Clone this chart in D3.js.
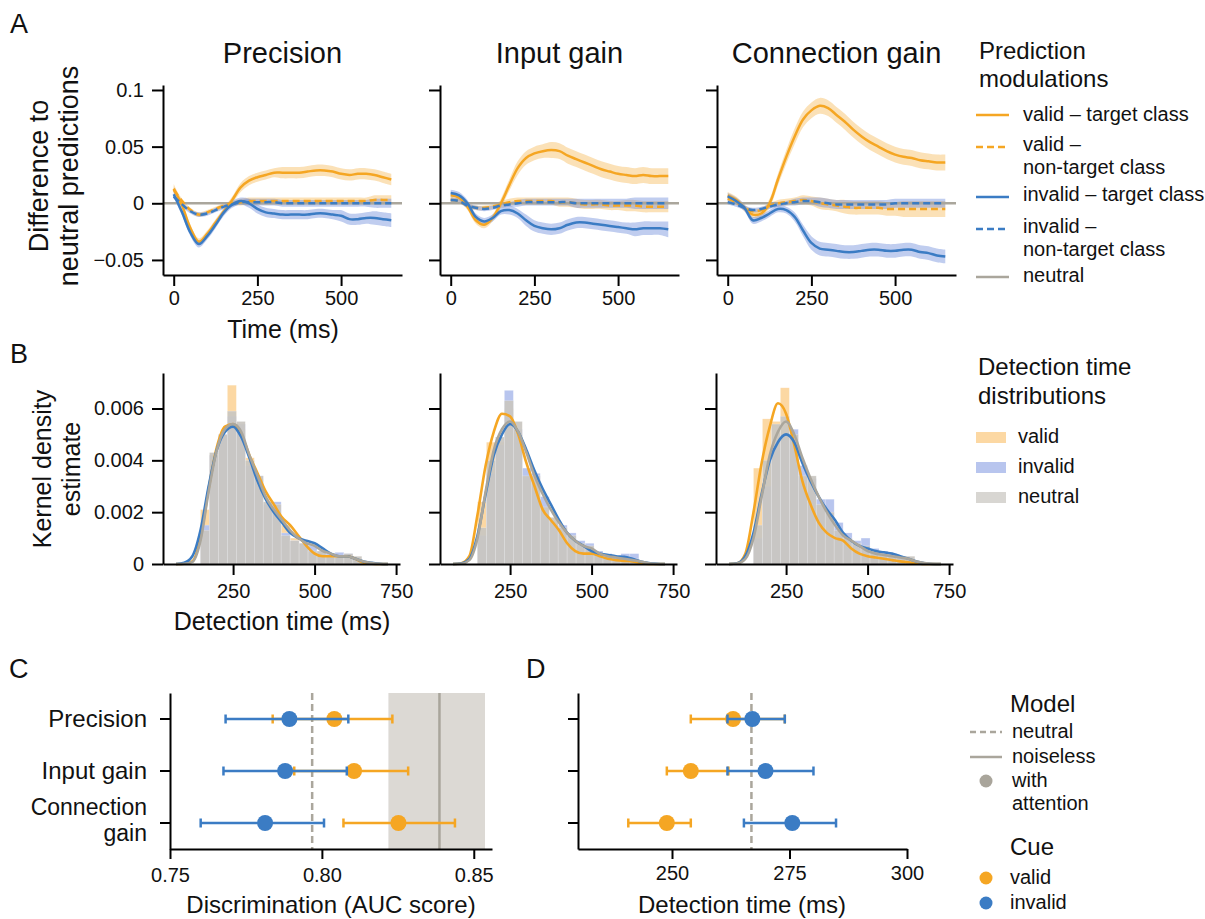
<!DOCTYPE html>
<html>
<head>
<meta charset="utf-8">
<script src="https://cdn.jsdelivr.net/npm/d3@7"></script>
<style>
  body { margin: 0; background: #fff; }
  svg { font-family: "Liberation Sans", Arial, Helvetica, sans-serif; }
</style>
</head>
<body>
<svg id="fig" width="1205" height="919"></svg>
<script>
// ---------- data ----------
const modelNames = ["Precision", "Input gain", "Connection gain"]

// A: prediction modulations (difference to neutral), sampled every 25 ms
const timeMs = [0,25,50,75,100,125,150,175,200,225,250,275,300,325,350,375,400,425,450,475,500,525,550,575,600,625,650]

const precValidTarget   = [0.013,-0.002,-0.022,-0.034,-0.027,-0.017,-0.007,0.003,0.014,0.020,0.023,0.025,0.027,0.027,0.027,0.027,0.028,0.029,0.029,0.028,0.026,0.025,0.026,0.026,0.025,0.023,0.021]
const precValidOther    = [0.012,0.002,-0.006,-0.010,-0.008,-0.005,-0.002,0.000,0.001,0.002,0.002,0.002,0.002,0.002,0.002,0.002,0.002,0.002,0.002,0.002,0.002,0.002,0.002,0.002,0.003,0.003,0.003]
const precInvalidTarget = [0.008,-0.008,-0.026,-0.036,-0.029,-0.019,-0.008,-0.001,0.002,0.000,-0.005,-0.008,-0.009,-0.010,-0.010,-0.010,-0.010,-0.009,-0.009,-0.010,-0.011,-0.014,-0.014,-0.013,-0.013,-0.014,-0.015]
const precInvalidOther  = [0.006,-0.001,-0.007,-0.010,-0.009,-0.006,-0.003,-0.001,0.001,0.001,0.001,0.001,0.001,0.000,0.000,0.000,0.000,0.000,0.000,0.000,0.000,0.000,0.000,0.000,0.000,0.000,0.000]
const precValidTargetCi   = [0.004,0.003,0.003,0.003,0.003,0.003,0.003,0.003,0.004,0.004,0.004,0.004,0.004,0.005,0.005,0.005,0.005,0.005,0.005,0.005,0.005,0.005,0.005,0.005,0.005,0.005,0.005]
const precValidOtherCi    = [0.003,0.002,0.002,0.002,0.002,0.002,0.002,0.002,0.003,0.003,0.003,0.003,0.003,0.003,0.003,0.003,0.003,0.003,0.003,0.003,0.003,0.003,0.003,0.003,0.004,0.004,0.004]
const precInvalidTargetCi = [0.003,0.003,0.003,0.003,0.003,0.003,0.003,0.003,0.003,0.004,0.004,0.004,0.004,0.004,0.004,0.004,0.004,0.004,0.004,0.004,0.005,0.005,0.005,0.005,0.006,0.006,0.006]
const precInvalidOtherCi  = [0.002,0.002,0.002,0.002,0.002,0.002,0.002,0.002,0.002,0.003,0.003,0.003,0.003,0.003,0.003,0.003,0.003,0.003,0.003,0.003,0.003,0.003,0.003,0.003,0.004,0.004,0.004]

const inputValidTarget   = [0.007,0.005,-0.003,-0.015,-0.019,-0.013,0.000,0.016,0.031,0.040,0.044,0.046,0.047,0.046,0.042,0.039,0.036,0.033,0.030,0.028,0.026,0.025,0.024,0.025,0.024,0.024,0.024]
const inputValidOther    = [0.003,0.002,-0.002,-0.004,-0.004,-0.003,-0.001,0.001,0.002,0.002,0.002,0.002,0.002,0.001,0.001,0.000,-0.001,-0.001,-0.001,-0.002,-0.002,-0.002,-0.002,-0.003,-0.003,-0.003,-0.003]
const inputInvalidTarget = [0.009,0.007,0.000,-0.012,-0.016,-0.013,-0.007,-0.006,-0.009,-0.015,-0.020,-0.022,-0.023,-0.022,-0.019,-0.017,-0.017,-0.018,-0.019,-0.020,-0.021,-0.022,-0.023,-0.022,-0.022,-0.022,-0.023]
const inputInvalidOther  = [0.003,0.002,-0.002,-0.004,-0.005,-0.004,-0.002,-0.001,0.000,0.001,0.001,0.001,0.001,0.001,0.001,0.000,0.000,0.000,0.000,0.000,0.000,0.000,0.000,0.000,0.000,0.000,0.000]
const inputValidTargetCi   = [0.003,0.003,0.003,0.003,0.003,0.003,0.004,0.005,0.006,0.006,0.006,0.006,0.007,0.007,0.007,0.007,0.007,0.007,0.007,0.007,0.007,0.007,0.007,0.007,0.007,0.007,0.007]
const inputValidOtherCi    = [0.002,0.002,0.002,0.002,0.002,0.002,0.003,0.003,0.003,0.003,0.003,0.003,0.003,0.004,0.004,0.004,0.004,0.004,0.004,0.004,0.004,0.005,0.005,0.005,0.005,0.005,0.005]
const inputInvalidTargetCi = [0.003,0.003,0.003,0.003,0.003,0.003,0.003,0.004,0.004,0.005,0.005,0.005,0.005,0.005,0.005,0.005,0.005,0.005,0.005,0.005,0.005,0.005,0.006,0.006,0.006,0.006,0.007]
const inputInvalidOtherCi  = [0.002,0.002,0.002,0.002,0.002,0.002,0.002,0.002,0.003,0.003,0.003,0.003,0.003,0.003,0.003,0.004,0.004,0.004,0.004,0.004,0.004,0.004,0.005,0.005,0.005,0.005,0.005]

const connValidTarget   = [0.007,0.003,-0.004,-0.010,-0.009,0.000,0.021,0.041,0.059,0.074,0.082,0.086,0.084,0.078,0.072,0.065,0.059,0.054,0.050,0.046,0.043,0.041,0.040,0.038,0.037,0.036,0.036]
const connValidOther    = [0.004,0.001,-0.004,-0.007,-0.006,-0.002,0.000,0.001,0.002,0.003,0.002,0.000,-0.001,-0.002,-0.003,-0.004,-0.004,-0.004,-0.004,-0.005,-0.005,-0.005,-0.005,-0.005,-0.005,-0.005,-0.005]
const connInvalidTarget = [0.006,0.002,-0.004,-0.015,-0.013,-0.009,-0.005,-0.006,-0.012,-0.024,-0.035,-0.040,-0.041,-0.042,-0.043,-0.043,-0.042,-0.041,-0.041,-0.042,-0.042,-0.041,-0.041,-0.043,-0.044,-0.046,-0.047]
const connInvalidOther  = [0.001,-0.001,-0.004,-0.006,-0.005,-0.003,-0.001,0.000,0.001,0.002,0.002,0.001,0.000,-0.001,-0.001,-0.001,-0.001,-0.001,-0.001,-0.001,0.000,0.000,0.000,0.000,0.000,0.000,0.000]
const connValidTargetCi   = [0.003,0.003,0.003,0.003,0.003,0.004,0.005,0.006,0.007,0.007,0.007,0.007,0.007,0.007,0.007,0.007,0.007,0.007,0.007,0.007,0.007,0.007,0.007,0.007,0.007,0.007,0.007]
const connValidOtherCi    = [0.002,0.002,0.002,0.002,0.002,0.002,0.003,0.003,0.003,0.004,0.004,0.005,0.005,0.005,0.006,0.006,0.006,0.006,0.006,0.006,0.006,0.007,0.007,0.007,0.007,0.007,0.007]
const connInvalidTargetCi = [0.003,0.003,0.003,0.003,0.003,0.003,0.003,0.003,0.004,0.005,0.006,0.006,0.006,0.006,0.006,0.006,0.006,0.006,0.006,0.006,0.006,0.006,0.006,0.006,0.006,0.006,0.006]
const connInvalidOtherCi  = [0.002,0.002,0.002,0.002,0.002,0.002,0.002,0.002,0.003,0.003,0.003,0.004,0.004,0.004,0.004,0.004,0.004,0.004,0.004,0.004,0.004,0.004,0.004,0.004,0.004,0.004,0.004]

const predYTicks = [-0.05, 0, 0.05, 0.1]
const predYTickLabels = ["\u22120.05", "0", "0.05", "0.1"]
const predXTicks = [0, 250, 500]

// B: detection time histograms (18 bins of 27.5 ms starting at 150 ms) and KDE curves
const binStart = 150
const binWidth = 27.5
const histPrecValid    = [0.0021,0.0042,0.0048,0.0069,0.0052,0.0041,0.0033,0.0022,0.0019,0.0015,0.0010,0.0008,0.0005,0.0004,0.0003,0.0002,0.0003,0.0001]
const histPrecInvalid  = [0.0015,0.0042,0.0050,0.0057,0.0054,0.0038,0.0034,0.0023,0.0024,0.0012,0.0009,0.0008,0.0007,0.0005,0.0004,0.00045,0.0004,0.0002]
const histPrecNeutral  = [0.0013,0.0043,0.0050,0.0059,0.0055,0.0040,0.0034,0.0024,0.0023,0.0011,0.0009,0.0008,0.0005,0.0005,0.00035,0.0003,0.0004,0.0003]
const histInputValid   = [0.0024,0.0047,0.0047,0.0060,0.0050,0.0035,0.0030,0.0018,0.0017,0.0011,0.0008,0.0006,0.0005,0.0004,0.0002,0.0002,0.0002,0.0001]
const histInputInvalid = [0.0011,0.0035,0.0046,0.0067,0.0052,0.0037,0.0035,0.0026,0.0016,0.0015,0.0012,0.0009,0.0008,0.0005,0.0004,0.0003,0.0004,0.0004]
const histInputNeutral = [0.0014,0.0040,0.0049,0.0063,0.0055,0.0034,0.0034,0.0022,0.0018,0.0014,0.0011,0.0008,0.0007,0.0004,0.0003,0.0003,0.0003,0.0002]
const histConnValid    = [0.0037,0.0056,0.0055,0.0068,0.0045,0.0030,0.0022,0.0014,0.0011,0.0010,0.0009,0.0006,0.0003,0.0003,0.0002,0.0002,0.0001,0.0001]
const histConnInvalid  = [0.0010,0.0030,0.0045,0.0050,0.0052,0.0038,0.0033,0.0025,0.0025,0.0016,0.0012,0.0009,0.0010,0.0006,0.0005,0.0004,0.0003,0.0002]
const histConnNeutral  = [0.0015,0.0040,0.0054,0.0057,0.0050,0.0034,0.0034,0.0023,0.0020,0.0013,0.0010,0.0008,0.0007,0.0005,0.0004,0.0003,0.0003,0.0003]

const kdeT = [75,100,125,150,175,200,225,250,275,300,325,350,375,400,425,450,475,500,525,550,575,600,625,650,675,700,725]
const kdePrecValid    = [0,0.00001,0.0001,0.0010,0.0029,0.0045,0.0053,0.0054,0.0050,0.0042,0.0035,0.0028,0.0023,0.0018,0.0015,0.0011,0.0007,0.0004,0.0003,0.0003,0.0003,0.0003,0.0002,0.00005,0.00001,0,0]
const kdePrecInvalid  = [0,0.00005,0.0003,0.0013,0.0030,0.0044,0.0051,0.0053,0.0049,0.0041,0.0032,0.0025,0.0020,0.0016,0.0012,0.0010,0.0009,0.0008,0.0006,0.0004,0.0003,0.0003,0.0002,0.0001,0.00005,0.00001,0]
const kdePrecNeutral  = [0,0.00001,0.00008,0.0009,0.0028,0.0044,0.0052,0.0054,0.0051,0.0042,0.0034,0.0026,0.0021,0.0017,0.0013,0.0010,0.0008,0.0007,0.0005,0.0004,0.0003,0.0003,0.0002,0.0001,0.00004,0.00001,0]
const kdeInputValid   = [0,0.00003,0.0003,0.0019,0.0038,0.0051,0.0058,0.0057,0.0050,0.0039,0.0030,0.0021,0.0017,0.0013,0.0008,0.0005,0.0004,0.0004,0.0003,0.0002,0.00015,0.00012,0.0001,0.00003,0,0,0]
const kdeInputInvalid = [0,0.00002,0.0002,0.0011,0.0027,0.0042,0.0050,0.0054,0.0051,0.0044,0.0036,0.0029,0.0023,0.0017,0.0012,0.0009,0.0007,0.0005,0.0004,0.00035,0.0003,0.00028,0.0002,0.0001,0.00004,0.00001,0]
const kdeInputNeutral = [0,0.00001,0.00015,0.0010,0.0028,0.0044,0.0052,0.0055,0.0051,0.0043,0.0034,0.0027,0.0021,0.0016,0.0012,0.0009,0.0007,0.0006,0.0004,0.0003,0.00025,0.0002,0.00015,0.0001,0.00003,0,0]
const kdeConnValid    = [0,0.00003,0.0004,0.0020,0.0039,0.0053,0.0062,0.0058,0.0046,0.0032,0.0023,0.0016,0.0012,0.0010,0.0009,0.0006,0.0004,0.0003,0.00025,0.0002,0.00015,0.0001,0.00007,0.00003,0,0,0]
const kdeConnInvalid  = [0,0.00003,0.0003,0.0012,0.0027,0.0040,0.0047,0.0050,0.0047,0.0039,0.0032,0.0026,0.0021,0.0017,0.0012,0.0009,0.0007,0.0006,0.0005,0.00045,0.0004,0.0003,0.0002,0.0001,0.00003,0,0]
const kdeConnNeutral  = [0,0.00002,0.0002,0.0010,0.0026,0.0042,0.0051,0.0055,0.0050,0.0041,0.0033,0.0026,0.0020,0.0015,0.0011,0.0009,0.0007,0.0005,0.0004,0.00035,0.0003,0.00025,0.0002,0.0001,0.00004,0.00001,0]

const kdeYTicks = [0, 0.002, 0.004, 0.006]
const kdeYTickLabels = ["0", "0.002", "0.004", "0.006"]
const kdeXTicks = [250, 500, 750]

// C: discrimination (AUC) with error bars, rows follow modelNames
const aucValid     = [0.8041, 0.8106, 0.8252]
const aucValidLo   = [0.7838, 0.7909, 0.8071]
const aucValidHi   = [0.8232, 0.8284, 0.8438]
const aucInvalid   = [0.7893, 0.7879, 0.7813]
const aucInvalidLo = [0.7683, 0.7676, 0.7601]
const aucInvalidHi = [0.8087, 0.8082, 0.8007]
const aucNeutral = 0.7968
const aucNoiseless = 0.8387
const aucNoiselessLo = 0.8219
const aucNoiselessHi = 0.8537
const aucTicks = [0.75, 0.80, 0.85]

// D: detection time with error bars
const rtValid     = [263.0, 254.0, 248.9]
const rtValidLo   = [254.0, 248.9, 240.7]
const rtValidHi   = [274.0, 262.0, 254.0]
const rtInvalid   = [267.1, 269.9, 275.6]
const rtInvalidLo = [261.8, 261.8, 265.3]
const rtInvalidHi = [274.0, 280.1, 284.9]
const rtNeutral = 266.9
const rtTicks = [250, 275, 300]

// ---------- styling ----------
const font = '"Liberation Sans", Arial, Helvetica, sans-serif'
const orange = "#f5a623"
const blue = "#3b7cc4"
const grey = "#aaa69c"
const orangeBand = "#f8c46f"
const blueBand = "#7391dc"
const histValidFill = "#fcd8a3"
const histInvalidFill = "#b8c5ee"
const histNeutralFill = "#c9c6c1"
const axisX = [163, 440, 717]

const svg = d3.select("#fig")
svg.append("rect").attr("width", 1205).attr("height", 919).attr("fill", "#fff")

function styleAxis(g, size) {
    g.attr("font-family", font).attr("font-size", size)
    g.select(".domain").attr("stroke", "#000").attr("stroke-width", 2)
    g.selectAll(".tick line").attr("stroke", "#000").attr("stroke-width", 2)
    g.selectAll(".tick text").attr("fill", "#111")
}

function addText(x, y, str, size, anchor) {
    return svg.append("text")
        .attr("x", x).attr("y", y)
        .attr("font-size", size)
        .attr("text-anchor", anchor || "start")
        .attr("fill", "#111")
        .text(str)
}

function addVLabel(x, y, str, size) {
    svg.append("text")
        .attr("transform", `translate(${x},${y}) rotate(-90)`)
        .attr("font-size", size)
        .attr("text-anchor", "middle")
        .attr("fill", "#111")
        .text(str)
}

// ---------- panel A ----------
const predPanels = [
    { vt: precValidTarget, vn: precValidOther, it: precInvalidTarget, inv: precInvalidOther,
      vtCi: precValidTargetCi, vnCi: precValidOtherCi, itCi: precInvalidTargetCi, invCi: precInvalidOtherCi },
    { vt: inputValidTarget, vn: inputValidOther, it: inputInvalidTarget, inv: inputInvalidOther,
      vtCi: inputValidTargetCi, vnCi: inputValidOtherCi, itCi: inputInvalidTargetCi, invCi: inputInvalidOtherCi },
    { vt: connValidTarget, vn: connValidOther, it: connInvalidTarget, inv: connInvalidOther,
      vtCi: connValidTargetCi, vnCi: connValidOtherCi, itCi: connInvalidTargetCi, invCi: connInvalidOtherCi }
]

predPanels.forEach((p, i) => {
    const x0 = axisX[i]
    const x = d3.scaleLinear().domain([-32, 682]).range([x0, x0 + 239])
    const y = d3.scaleLinear().domain([-0.0633, 0.1044]).range([275, 85])
    const g = svg.append("g")

    const band = (vals, ci) => d3.area()
        .x((d, k) => x(timeMs[k]))
        .y0((d, k) => y(vals[k] - ci[k]))
        .y1((d, k) => y(vals[k] + ci[k]))
        .curve(d3.curveCatmullRom)(vals)
    const line = vals => d3.line()
        .x((d, k) => x(timeMs[k]))
        .y(d => y(d))
        .curve(d3.curveCatmullRom)(vals)

    g.append("path").attr("d", band(p.vt, p.vtCi)).attr("fill", orangeBand).attr("opacity", 0.5)
    g.append("path").attr("d", band(p.vn, p.vnCi)).attr("fill", orangeBand).attr("opacity", 0.5)
    g.append("path").attr("d", band(p.it, p.itCi)).attr("fill", blueBand).attr("opacity", 0.45)
    g.append("path").attr("d", band(p.inv, p.invCi)).attr("fill", blueBand).attr("opacity", 0.45)

    g.append("line")
        .attr("x1", x.range()[0]).attr("x2", x.range()[1])
        .attr("y1", y(0)).attr("y2", y(0))
        .attr("stroke", grey).attr("stroke-width", 2.5)

    g.append("path").attr("d", line(p.vt)).attr("fill", "none").attr("stroke", orange).attr("stroke-width", 2.5)
    g.append("path").attr("d", line(p.vn)).attr("fill", "none").attr("stroke", orange).attr("stroke-width", 2.5).attr("stroke-dasharray", "7,4")
    g.append("path").attr("d", line(p.it)).attr("fill", "none").attr("stroke", blue).attr("stroke-width", 2.5)
    g.append("path").attr("d", line(p.inv)).attr("fill", "none").attr("stroke", blue).attr("stroke-width", 2.5).attr("stroke-dasharray", "7,4")

    const yAxis = d3.axisLeft(y).tickValues(predYTicks).tickSize(11).tickSizeOuter(0).tickPadding(8)
        .tickFormat((d, k) => i === 0 ? predYTickLabels[k] : "")
    const gy = svg.append("g").attr("transform", `translate(${x0},0)`).call(yAxis)
    styleAxis(gy, 20)

    const xAxis = d3.axisBottom(x).tickValues(predXTicks).tickSize(11).tickSizeOuter(0).tickPadding(5)
    const gx = svg.append("g").attr("transform", "translate(0,275)").call(xAxis)
    styleAxis(gx, 20)

    addText(x0 + 119.5, 63, modelNames[i], 29, "middle")
})

addText(10, 33, "A", 27)
addVLabel(48, 176, "Difference to", 27)
addVLabel(78, 176, "neutral predictions", 27)
addText(283, 338, "Time (ms)", 25, "middle")

// legend A
addText(979, 59, "Prediction", 24)
addText(979, 87, "modulations", 24)
const predLegend = [
    { color: orange, dash: null, y: 115, lines: ["valid \u2013 target class"], base: [121] },
    { color: orange, dash: "7,4", y: 147, lines: ["valid \u2013", "non-target class"], base: [151, 174] },
    { color: blue, dash: null, y: 197, lines: ["invalid \u2013 target class"], base: [201] },
    { color: blue, dash: "7,4", y: 229, lines: ["invalid \u2013", "non-target class"], base: [233, 256] },
    { color: grey, dash: null, y: 277, lines: ["neutral"], base: [282] }
]
predLegend.forEach(d => {
    svg.append("line").attr("x1", 976).attr("x2", 1009).attr("y1", d.y).attr("y2", d.y)
        .attr("stroke", d.color).attr("stroke-width", 2.5).attr("stroke-dasharray", d.dash)
    d.lines.forEach((t, k) => addText(1023, d.base[k], t, 20))
})

// ---------- panel B ----------
const kdePanels = [
    { hist: [histPrecValid, histPrecInvalid, histPrecNeutral], kde: [kdePrecValid, kdePrecInvalid, kdePrecNeutral] },
    { hist: [histInputValid, histInputInvalid, histInputNeutral], kde: [kdeInputValid, kdeInputInvalid, kdeInputNeutral] },
    { hist: [histConnValid, histConnInvalid, histConnNeutral], kde: [kdeConnValid, kdeConnInvalid, kdeConnNeutral] }
]
const histFills = [histValidFill, histInvalidFill, histNeutralFill]
const histOpacity = [1, 1, 0.93]
const kdeColors = [orange, blue, grey]

kdePanels.forEach((p, i) => {
    const x0 = axisX[i] - (i === 2 ? 1 : 0)
    const x = d3.scaleLinear().domain([35, 762]).range([x0, x0 + 237])
    const y = d3.scaleLinear().domain([0, 0.00737]).range([564, 373])
    const g = svg.append("g")

    p.hist.forEach((vals, s) => {
        g.append("g").selectAll("rect")
            .data(vals)
            .join("rect")
            .attr("x", (d, k) => x(binStart + k * binWidth))
            .attr("width", x(binStart + binWidth) - x(binStart))
            .attr("y", d => y(d))
            .attr("height", d => y(0) - y(d))
            .attr("fill", histFills[s])
            .attr("fill-opacity", histOpacity[s])
            .attr("stroke", "#fff").attr("stroke-opacity", 0.35).attr("stroke-width", 0.6)
    })

    const kdeLine = d3.line()
        .x((d, k) => x(kdeT[k]))
        .y(d => y(d))
        .curve(d3.curveMonotoneX)
    p.kde.forEach((vals, s) => {
        g.append("path").attr("d", kdeLine(vals))
            .attr("fill", "none").attr("stroke", kdeColors[s]).attr("stroke-width", 2.6)
    })

    const yAxis = d3.axisLeft(y).tickValues(kdeYTicks).tickSize(11).tickSizeOuter(0).tickPadding(8)
        .tickFormat((d, k) => i === 0 ? kdeYTickLabels[k] : "")
    const gy = svg.append("g").attr("transform", `translate(${x0},0)`).call(yAxis)
    styleAxis(gy, 20)

    const xAxis = d3.axisBottom(x).tickValues(kdeXTicks)
        .tickSize(11).tickSizeOuter(0).tickPadding(9)
    const gx = svg.append("g").attr("transform", "translate(0,564)").call(xAxis)
    styleAxis(gx, 20)
})

addText(10, 363, "B", 27)
addVLabel(51, 469, "Kernel density", 25)
addVLabel(80, 469, "estimate", 25)
addText(282, 630, "Detection time (ms)", 25, "middle")

// legend B
addText(978, 375, "Detection time", 24)
addText(978, 404, "distributions", 24)
const histLegend = ["valid", "invalid", "neutral"]
histLegend.forEach((t, k) => {
    svg.append("rect").attr("x", 976).attr("y", 432 + k * 30).attr("width", 30).attr("height", 11)
        .attr("fill", k === 2 ? "#d8d6d2" : histFills[k])
    addText(1018, 443 + k * 30, t, 20)
})

// ---------- panels C and D ----------
const rowScale = d3.scaleBand().domain(modelNames).range([693, 849]).padding(0)
const rowY = name => rowScale(name) + rowScale.bandwidth() / 2

function drawErrorRows(g, x, mid, lo, hi, color) {
    modelNames.forEach((name, k) => {
        const yc = rowY(name)
        g.append("line").attr("x1", x(lo[k])).attr("x2", x(hi[k])).attr("y1", yc).attr("y2", yc)
            .attr("stroke", color).attr("stroke-width", 2.5)
        ;[lo[k], hi[k]].forEach(v => {
            g.append("line").attr("x1", x(v)).attr("x2", x(v)).attr("y1", yc - 4.5).attr("y2", yc + 4.5)
                .attr("stroke", color).attr("stroke-width", 2.5)
        })
        g.append("circle").attr("cx", x(mid[k])).attr("cy", yc).attr("r", 8).attr("fill", color)
    })
}

// C
{
    const x = d3.scaleLinear().domain([0.75, 0.856]).range([170, 492])
    const g = svg.append("g")
    g.append("rect")
        .attr("x", x(aucNoiselessLo)).attr("width", x(aucNoiselessHi) - x(aucNoiselessLo))
        .attr("y", 693).attr("height", 156)
        .attr("fill", "#dcd9d4")
    g.append("line").attr("x1", x(aucNoiseless)).attr("x2", x(aucNoiseless)).attr("y1", 693).attr("y2", 849)
        .attr("stroke", "#a9a59b").attr("stroke-width", 2.5)
    g.append("line").attr("x1", x(aucNeutral)).attr("x2", x(aucNeutral)).attr("y1", 693).attr("y2", 849)
        .attr("stroke", "#aaa69c").attr("stroke-width", 2.5).attr("stroke-dasharray", "7,4")

    drawErrorRows(g, x, aucValid, aucValidLo, aucValidHi, orange)
    drawErrorRows(g, x, aucInvalid, aucInvalidLo, aucInvalidHi, blue)

    const gy = svg.append("g").attr("transform", "translate(170,0)")
        .call(d3.axisLeft(rowScale).tickSize(10).tickSizeOuter(0).tickFormat(""))
    styleAxis(gy, 24)
    const gx = svg.append("g").attr("transform", "translate(0,849)")
        .call(d3.axisBottom(x).tickValues(aucTicks).tickSize(10).tickSizeOuter(0).tickPadding(9).tickFormat(d3.format(".2f")))
    styleAxis(gx, 20)

    addText(147, 727, "Precision", 24, "end")
    addText(147, 779, "Input gain", 24, "end")
    addText(147, 815, "Connection", 23, "end")
    addText(147, 841, "gain", 23, "end")
    addText(331, 913, "Discrimination (AUC score)", 24, "middle")
    addText(9, 678, "C", 27)
}

// D
{
    const x = d3.scaleLinear().domain([230, 300]).range([578, 907])
    const g = svg.append("g")
    g.append("line").attr("x1", x(rtNeutral)).attr("x2", x(rtNeutral)).attr("y1", 693).attr("y2", 849)
        .attr("stroke", "#aaa69c").attr("stroke-width", 2.5).attr("stroke-dasharray", "7,4")

    drawErrorRows(g, x, rtValid, rtValidLo, rtValidHi, orange)
    drawErrorRows(g, x, rtInvalid, rtInvalidLo, rtInvalidHi, blue)

    const gy = svg.append("g").attr("transform", "translate(578,0)")
        .call(d3.axisLeft(rowScale).tickSize(10).tickSizeOuter(0).tickFormat(""))
    styleAxis(gy, 20)
    const gx = svg.append("g").attr("transform", "translate(0,849)")
        .call(d3.axisBottom(x).tickValues(rtTicks).tickSize(10).tickSizeOuter(0).tickPadding(7))
    styleAxis(gx, 20)

    addText(742, 913, "Detection time (ms)", 24, "middle")
    addText(526, 678, "D", 27)
}

// legend C/D
addText(1010, 712, "Model", 24)
svg.append("line").attr("x1", 970).attr("x2", 1002).attr("y1", 732).attr("y2", 732)
    .attr("stroke", "#aaa69c").attr("stroke-width", 2.5).attr("stroke-dasharray", "6,4")
addText(1012, 738, "neutral", 20)
svg.append("line").attr("x1", 970).attr("x2", 1002).attr("y1", 757).attr("y2", 757)
    .attr("stroke", "#aaa69c").attr("stroke-width", 2.5)
addText(1012, 763, "noiseless", 20)
svg.append("circle").attr("cx", 986).attr("cy", 781).attr("r", 6.5).attr("fill", "#a9a59b")
addText(1012, 787, "with", 20)
addText(1012, 810, "attention", 20)
addText(1010, 855, "Cue", 24)
svg.append("circle").attr("cx", 986).attr("cy", 878).attr("r", 6.5).attr("fill", orange)
addText(1010, 884, "valid", 20)
svg.append("circle").attr("cx", 986).attr("cy", 903).attr("r", 6.5).attr("fill", blue)
addText(1010, 909, "invalid", 20)
</script>
</body>
</html>
